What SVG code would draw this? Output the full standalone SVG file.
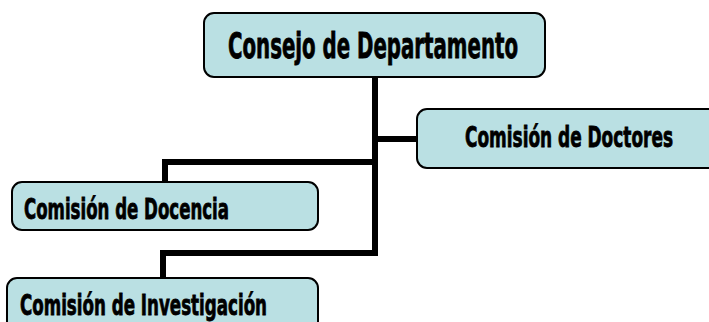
<svg xmlns="http://www.w3.org/2000/svg" width="709" height="322" viewBox="0 0 709 322">
<style>
.box{fill:#BAE0E3;stroke:#000;stroke-width:2}
.lbl{font-family:"DejaVu Sans Condensed","DejaVu Sans",sans-serif;font-weight:bold;fill:#000;stroke:#000;stroke-width:0.8}
.conn{fill:none;stroke:#000;stroke-width:6;stroke-linejoin:miter;stroke-linecap:butt}
</style>
<rect width="709" height="322" fill="#fff"/>
<g id="connectors">
<path class="conn" d="M375 77 V256"/>
<path class="conn" d="M375 139 H417"/>
<path class="conn" d="M378 162 H165 V182"/>
<path class="conn" d="M375 253 H163 V278"/>
</g>
<g id="consejo">
<rect class="box" x="204" y="13" width="341" height="64" rx="10"/>
<text class="lbl" x="228" y="58" font-size="36" textLength="290" lengthAdjust="spacingAndGlyphs">Consejo de Departamento</text>
</g>
<g id="doctores">
<rect class="box" x="417" y="109" width="310" height="59" rx="10"/>
<text class="lbl" x="465" y="147" font-size="29" textLength="208" lengthAdjust="spacingAndGlyphs">Comisión de Doctores</text>
</g>
<g id="docencia">
<rect class="box" x="12" y="182" width="306" height="48" rx="10"/>
<text class="lbl" x="24" y="219" font-size="29" textLength="205" lengthAdjust="spacingAndGlyphs">Comisión de Docencia</text>
</g>
<g id="investigacion">
<rect class="box" x="7" y="278" width="311" height="60" rx="10"/>
<text class="lbl" x="20" y="315" font-size="29" textLength="247" lengthAdjust="spacingAndGlyphs">Comisión de Investigación</text>
</g>
</svg>
